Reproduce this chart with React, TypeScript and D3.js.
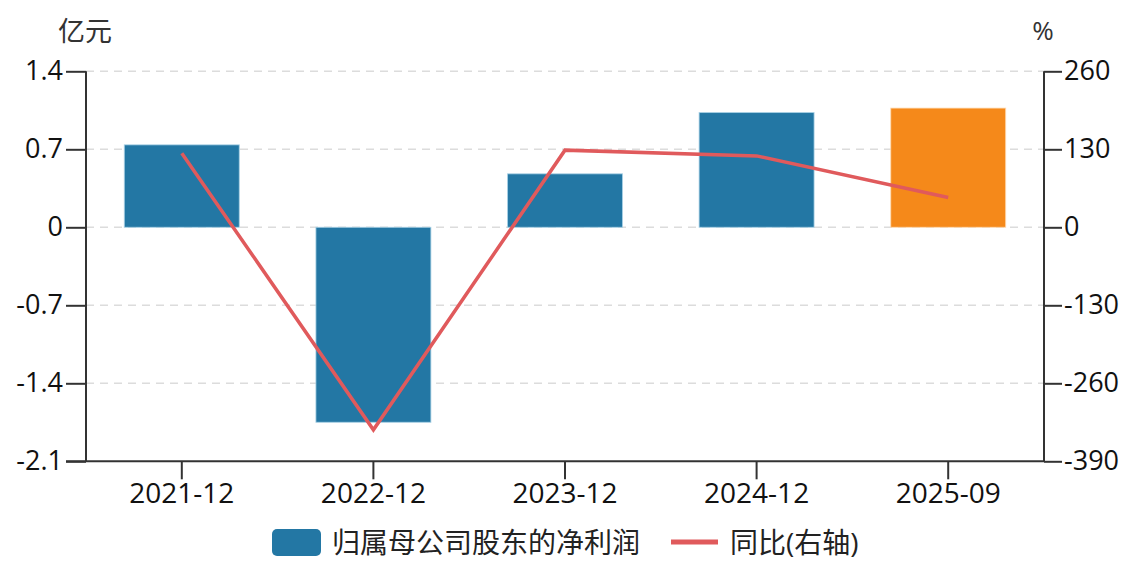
import { useEffect, useRef } from 'react'
import * as d3 from 'd3'

const categories = ['2021-12', '2022-12', '2023-12', '2024-12', '2025-09']
const profit = [0.74, -1.75, 0.48, 1.03, 1.07]
const yoy = [123.6, -337.5, 128.6, 119, 49.7]
const leftTicks = [-2.1, -1.4, -0.7, 0, 0.7, 1.4]
const rightTicks = [-390, -260, -130, 0, 130, 260]
const barName = '归属母公司股东的净利润'
const lineName = '同比(右轴)'

const W = 1140
const H = 574
const FONT = '"Open Sans", "Noto Sans CJK SC", sans-serif'

export default function App() {
  const svgRef = useRef<SVGSVGElement>(null)

  useEffect(() => {
    if (!svgRef.current) return
    const svg = d3.select(svgRef.current)
    svg.selectAll('*').remove()

    const left = 86
    const right = 1044
    const top = 71.3
    const bottom = 461.3

    const x = d3.scaleBand().domain(categories).range([left, right]).paddingInner(0.4).paddingOuter(0.2)
    const yL = d3.scaleLinear().domain([-2.1, 1.4]).range([bottom, top])
    const yR = d3.scaleLinear().domain([-390, 260]).range([bottom, top])

    // grid
    svg.append('g')
      .selectAll('line')
      .data(leftTicks.filter(t => t !== -2.1))
      .enter().append('line')
      .attr('x1', left).attr('x2', right)
      .attr('y1', d => yL(d)).attr('y2', d => yL(d))
      .attr('stroke', '#dcdcdc')
      .attr('stroke-width', 1.5)
      .attr('stroke-dasharray', '8,6')

    // bars
    svg.append('g')
      .selectAll('rect')
      .data(profit)
      .enter().append('rect')
      .attr('x', (_d, i) => x(categories[i])!)
      .attr('width', x.bandwidth())
      .attr('y', d => yL(Math.max(0, d)))
      .attr('height', d => Math.abs(yL(d) - yL(0)))
      .attr('fill', (_d, i) => i === categories.length - 1 ? '#f5891a' : '#2377a4')
      .attr('stroke', (_d, i) => i === categories.length - 1 ? 'rgba(255,220,180,0.8)' : 'rgba(170,210,230,0.8)')
      .attr('stroke-width', 1)

    // line
    const line = d3.line<number>()
      .x((_d, i) => x(categories[i])! + x.bandwidth() / 2)
      .y(d => yR(d))
    svg.append('path')
      .datum(yoy)
      .attr('d', line)
      .attr('fill', 'none')
      .attr('stroke', '#e05a5c')
      .attr('stroke-width', 3.5)

    const axisColor = '#333'

    // left axis
    const gl = svg.append('g').attr('transform', `translate(${left},0)`)
      .call(d3.axisLeft(yL).tickValues(leftTicks).tickSize(20).tickPadding(3).tickFormat(d => String(d)))
    gl.select('.domain').attr('stroke', axisColor).attr('stroke-width', 2).attr('d', `M0,${top}V${bottom}`)
    gl.selectAll('.tick line').attr('stroke', axisColor).attr('stroke-width', 2)
    gl.selectAll('.tick text').attr('fill', '#111').attr('font-size', 27).attr('font-family', FONT)

    // right axis
    const gr = svg.append('g').attr('transform', `translate(${right},0)`)
      .call(d3.axisRight(yR).tickValues(rightTicks).tickSize(18).tickPadding(2).tickFormat(d => String(d)))
    gr.select('.domain').attr('stroke', axisColor).attr('stroke-width', 2).attr('d', `M0,${top}V${bottom}`)
    gr.selectAll('.tick line').attr('stroke', axisColor).attr('stroke-width', 2)
    gr.selectAll('.tick text').attr('fill', '#111').attr('font-size', 27).attr('font-family', FONT)

    // bottom axis
    const gb = svg.append('g').attr('transform', `translate(0,${bottom})`)
      .call(d3.axisBottom(x).tickSize(18).tickPadding(4))
    gb.select('.domain').attr('stroke', axisColor).attr('stroke-width', 2).attr('d', `M${left - 20},0H${right}`)
    gb.selectAll('.tick line').attr('stroke', axisColor).attr('stroke-width', 2)
    gb.selectAll('.tick text').attr('fill', '#111').attr('font-size', 28).attr('font-family', FONT)

    // units
    svg.append('text').attr('x', 85).attr('y', 30).attr('text-anchor', 'middle')
      .attr('dominant-baseline', 'central').attr('font-size', 27).attr('font-family', FONT)
      .attr('fill', '#333').text('亿元')
    svg.append('text').attr('x', 1043).attr('y', 30).attr('text-anchor', 'middle')
      .attr('dominant-baseline', 'central').attr('font-size', 26).attr('font-family', FONT)
      .attr('fill', '#333').text('%')

    // legend
    const lg = svg.append('g').attr('font-family', FONT).attr('font-size', 28)
    lg.append('rect').attr('x', 272).attr('y', 529).attr('width', 49).attr('height', 27)
      .attr('rx', 5).attr('fill', '#2377a4')
    lg.append('text').attr('x', 332).attr('y', 542).attr('dominant-baseline', 'central')
      .attr('fill', '#222').text(barName)
    lg.append('line').attr('x1', 671).attr('x2', 718).attr('y1', 542).attr('y2', 542)
      .attr('stroke', '#e05a5c').attr('stroke-width', 5)
    lg.append('text').attr('x', 730).attr('y', 542).attr('dominant-baseline', 'central')
      .attr('fill', '#222').text(lineName)
  }, [])

  return (
    <svg ref={svgRef} width={W} height={H}
      style={{ position: 'absolute', left: 0, top: 0, background: '#fff' }} />
  )
}
